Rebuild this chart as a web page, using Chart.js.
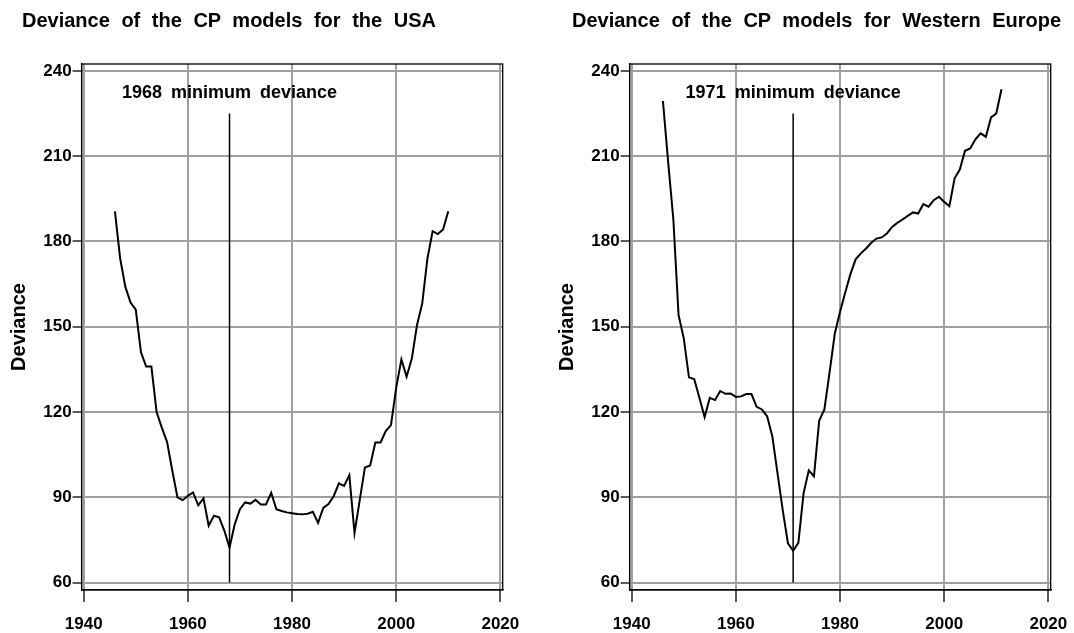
<!DOCTYPE html>
<html>
<head>
<meta charset="utf-8">
<script src="https://cdn.jsdelivr.net/npm/chart.js@4/dist/chart.umd.min.js"></script>
<style>
  html, body { margin: 0; padding: 0; background: #fff; }
  #wrap { position: relative; width: 1074px; height: 633px; overflow: hidden; }
  canvas { position: absolute; top: 0; }
  #usaChart { left: 0; }
  #euChart { left: 548px; }
  .title { position: absolute; top: 8px; font: bold 20px "Liberation Sans", Arial, sans-serif; line-height: 24px; word-spacing: 6px; white-space: nowrap; color: #000; }
</style>
</head>
<body>
<div id="wrap">
  <canvas id="usaChart" width="537" height="633"></canvas>
  <canvas id="euChart" width="526" height="633"></canvas>
  <div class="title" style="left:22px">Deviance of the CP models for the USA</div>
  <div class="title" style="left:572px">Deviance of the CP models for Western Europe</div>
</div>
<script>
const usaYears = [1946, 1947, 1948, 1949, 1950, 1951, 1952, 1953, 1954, 1955, 1956, 1957, 1958, 1959, 1960,
  1961, 1962, 1963, 1964, 1965, 1966, 1967, 1968, 1969, 1970, 1971, 1972, 1973, 1974, 1975, 1976, 1977, 1978,
  1979, 1980, 1981, 1982, 1983, 1984, 1985, 1986, 1987, 1988, 1989, 1990, 1991, 1992, 1993, 1994, 1995, 1996,
  1997, 1998, 1999, 2000, 2001, 2002, 2003, 2004, 2005, 2006, 2007, 2008, 2009, 2010];
const usaDeviance = [190.6, 174, 164, 158.5, 156, 141, 136, 136, 120, 114.5, 109.5, 99.5, 90, 89, 90.5,
  91.7, 87.2, 89.6, 80, 83.5, 83, 78.3, 72.3, 80.5, 85.8, 88.2, 87.8, 89.1, 87.5, 87.5, 91.6, 85.8, 85.2,
  84.7, 84.4, 84.1, 84, 84.2, 84.9, 81, 86.3, 87.6, 90.4, 94.9, 94, 97.8, 77.4, 89, 100.5, 101.2, 109.3,
  109.3, 113.3, 115.4, 128.5, 138.5, 132.4, 138.8, 150.6, 158.2, 174, 183.6, 182.6, 184.2, 190.6];

const euYears = [1946, 1947, 1948, 1949, 1950, 1951, 1952, 1953, 1954, 1955, 1956, 1957, 1958, 1959, 1960,
  1961, 1962, 1963, 1964, 1965, 1966, 1967, 1968, 1969, 1970, 1971, 1972, 1973, 1974, 1975, 1976, 1977, 1978,
  1979, 1980, 1981, 1982, 1983, 1984, 1985, 1986, 1987, 1988, 1989, 1990, 1991, 1992, 1993, 1994, 1995, 1996,
  1997, 1998, 1999, 2000, 2001, 2002, 2003, 2004, 2005, 2006, 2007, 2008, 2009, 2010, 2011];
const euDeviance = [229.4, 208, 187.7, 154.1, 145.9, 132.2, 131.6, 125, 118.2, 125, 124.2, 127.4, 126.4, 126.5, 125.3,
  125.5, 126.3, 126.3, 121.8, 120.9, 118.5, 111.5, 98.4, 85.5, 73.8, 71.2, 74, 91.4, 99.5, 97.4, 116.9, 120.9, 134,
  147.6, 155.2, 162, 168.5, 173.7, 175.8, 177.5, 179.5, 181, 181.4, 182.8, 185.1, 186.5, 187.7, 189, 190.2, 189.8, 193.1,
  192.2, 194.5, 195.7, 193.9, 192.4, 202.2, 205.3, 211.9, 212.7, 215.9, 218, 216.8, 223.6, 225, 233.5];

const usaMinYear = 1968;
const euMinYear = 1971;
const minLineSpan = [60, 225];
const usaNote = "1968 minimum deviance";
const euNote = "1971 minimum deviance";
const noteLevel = 232.2;

const xTickValues = [1940, 1960, 1980, 2000, 2020];
const yTickValues = [60, 90, 120, 150, 180, 210, 240];
const yAxisLabel = "Deviance";

const FONT = '"Liberation Sans", Arial, sans-serif';

const framePlugin = {
  id: "frame",
  afterDraw(chart, args, opts) {
    const { ctx, chartArea: a, scales } = chart;
    ctx.save();
    ctx.strokeStyle = "#000";
    ctx.lineWidth = 1.3;
    ctx.strokeRect(a.left, a.top, a.right - a.left, a.bottom - a.top);
    // note text above the minimum line
    ctx.fillStyle = "#000";
    ctx.font = `bold 18px ${FONT}`;
    if ("wordSpacing" in ctx) ctx.wordSpacing = "4px";
    ctx.textAlign = "center";
    ctx.textBaseline = "middle";
    ctx.fillText(opts.note, scales.x.getPixelForValue(opts.year), scales.y.getPixelForValue(noteLevel));
    ctx.restore();
  }
};

function buildChart(canvasId, years, values, minYear, note, padRight) {
  const points = years.map((yr, i) => ({ x: yr, y: values[i] }));
  const minLine = minLineSpan.map((v) => ({ x: minYear, y: v }));
  return new Chart(document.getElementById(canvasId), {
    type: "line",
    data: {
      datasets: [
        { data: points, borderColor: "#000", borderWidth: 2, pointRadius: 0, tension: 0, fill: false },
        { data: minLine, borderColor: "#000", borderWidth: 1.5, pointRadius: 0, tension: 0, fill: false }
      ]
    },
    options: {
      responsive: false,
      animation: false,
      events: [],
      layout: { padding: { top: 64, right: padRight, bottom: 0, left: 0 } },
      plugins: { legend: { display: false }, tooltip: { enabled: false }, frame: { note, year: minYear } },
      scales: {
        x: {
          type: "linear", min: 1939.6, max: 2020.45,
          afterBuildTicks: (axis) => { axis.ticks = xTickValues.map((v) => ({ value: v })); },
          afterFit: (axis) => { axis.height = 43; axis.paddingLeft = 0; axis.paddingRight = 0; },
          grid: { color: "#a0a0a0", lineWidth: 2, tickColor: "#000", tickWidth: 1.3, tickLength: 12 },
          border: { color: "#000", width: 1.3 },
          ticks: { color: "#000", padding: 12, maxRotation: 0, font: { family: FONT, size: 17, weight: "bold" }, callback: (v) => String(v) }
        },
        y: {
          type: "linear", min: 57.4, max: 242.4,
          afterBuildTicks: (axis) => { axis.ticks = yTickValues.map((v) => ({ value: v })); },
          afterFit: (axis) => { axis.width = 81.6; },
          grid: { color: "#a0a0a0", lineWidth: 2, tickColor: "#000", tickWidth: 1.3, tickLength: 9 },
          border: { color: "#000", width: 1.3 },
          ticks: { color: "#000", padding: 1, font: { family: FONT, size: 17, weight: "bold" }, callback: (v) => String(v) },
          title: { display: true, text: yAxisLabel, color: "#000", padding: { top: 7, bottom: 0 }, font: { family: FONT, size: 20, weight: "bold" } }
        }
      }
    },
    plugins: [framePlugin]
  });
}

buildChart("usaChart", usaYears, usaDeviance, usaMinYear, usaNote, 34.3);
buildChart("euChart", euYears, euDeviance, euMinYear, euNote, 23.3);
</script>
</body>
</html>
